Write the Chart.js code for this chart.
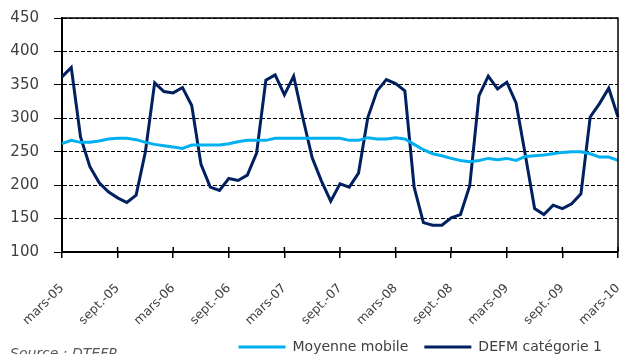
<!DOCTYPE html>
<html>
<head>
<meta charset="utf-8">
<script src="https://cdn.jsdelivr.net/npm/chart.js@4"></script>
<style>
  html, body { margin: 0; padding: 0; background: #fff; }
  #wrap { position: relative; width: 622px; height: 354px; overflow: hidden; }
  #source { position: absolute; left: 10px; top: 345px; font: italic 14px "DejaVu Sans", sans-serif; color: #595959; }
</style>
</head>
<body>
<div id="wrap">
  <canvas id="chart" width="622" height="354"></canvas>
  <div id="source">Source : DTEFP</div>
</div>
<script>
// mois de mars 2005 à mars 2010
const monthNames = ["janv.", "févr.", "mars", "avr.", "mai", "juin", "juil.", "août", "sept.", "oct.", "nov.", "déc."];
const firstMonth = 2;   // mars
const firstYear = 5;    // 2005
const monthCount = 61;

// DEFM catégorie 1 (valeurs mensuelles)
const defmCat1 = [
  362, 376, 272, 228, 204, 190, 181, 174, 185, 250, 353, 340,
  338, 346, 319, 231, 197, 192, 210, 207, 215, 248, 357, 365,
  335, 363, 300, 241, 206, 176, 202, 197, 218, 301, 341, 358,
  352, 341, 197, 144, 140, 140, 151, 156, 199, 334, 363, 344,
  354, 323, 245, 165, 156, 170, 165, 172, 187, 302, 322, 345,
  302
];

// Moyenne mobile
const moyenneMobile = [
  262, 267, 264, 264, 266, 269, 270, 270, 268, 264, 261, 259,
  257, 255, 260, 260, 260, 260, 262, 265, 267, 267, 267, 270,
  270, 270, 270, 270, 270, 270, 270, 267, 267, 271, 269, 269,
  271, 269, 261, 253, 247, 244, 240, 237, 235, 237, 240, 238,
  240, 237, 243, 244, 245, 247, 249, 250, 250, 247, 242, 242,
  237
];

const yTicks = [100, 150, 200, 250, 300, 350, 400, 450];

// étiquettes des catégories, ex. "mars-05"
const labels = [];
for (let i = 0; i < monthCount; i++) {
  const m = (firstMonth + i) % 12;
  const y = firstYear + Math.floor((firstMonth + i) / 12);
  labels.push(monthNames[m] + "-" + String(y).padStart(2, "0"));
}

const textColor = "#404040";
const fontFamily = "'DejaVu Sans', sans-serif";

// cadre du graphique (haut et droite) + petites graduations intérieures
const framePlugin = {
  id: "frame",
  afterDraw(chart) {
    const { ctx, chartArea: a } = chart;
    const x = chart.scales.x;
    ctx.save();
    ctx.strokeStyle = "#000";
    ctx.lineWidth = 1.5;
    ctx.beginPath();
    ctx.moveTo(a.left, a.top);
    ctx.lineTo(a.right, a.top);
    ctx.lineTo(a.right, a.bottom);
    ctx.stroke();
    x.ticks.forEach((t, i) => {
      const px = x.getPixelForTick(i);
      ctx.beginPath();
      ctx.moveTo(px, a.bottom);
      ctx.lineTo(px, a.bottom - 5);
      ctx.stroke();
    });
    ctx.restore();
  }
};

new Chart(document.getElementById("chart"), {
  type: "line",
  data: {
    labels: labels,
    datasets: [
      {
        label: "Moyenne mobile",
        data: moyenneMobile,
        borderColor: "#00B0F0",
        backgroundColor: "#00B0F0",
        borderWidth: 3,
        pointRadius: 0,
        tension: 0
      },
      {
        label: "DEFM catégorie 1",
        data: defmCat1,
        borderColor: "#002060",
        backgroundColor: "#002060",
        borderWidth: 3,
        pointRadius: 0,
        tension: 0
      }
    ]
  },
  options: {
    responsive: false,
    animation: false,
    layout: { padding: { top: 18, right: 4, left: 0, bottom: -10 } },
    plugins: {
      tooltip: { enabled: false },
      legend: {
        position: "bottom",
        align: "end",
        labels: {
          usePointStyle: true,
          pointStyle: "line",
          pointStyleWidth: 47,
          boxHeight: 14,
          padding: 16,
          color: textColor,
          font: { family: fontFamily, size: 14 }
        }
      }
    },
    scales: {
      x: {
        afterBuildTicks: (scale) => {
          scale.ticks = scale.ticks.filter((t, i) => i % 6 === 0);
        },
        afterFit: (scale) => {
          scale.height = 72;
          scale.paddingLeft = 0;
          scale.paddingRight = 0;
        },
        ticks: {
          autoSkip: false,
          maxRotation: 45,
          minRotation: 45,
          padding: 23,
          color: textColor,
          font: { family: fontFamily, size: 12.5 }
        },
        grid: {
          drawOnChartArea: false,
          color: "#000",
          lineWidth: 1.5,
          tickLength: 6
        },
        border: { display: true, color: "#000", width: 2 }
      },
      y: {
        min: 100,
        max: 450,
        afterBuildTicks: (scale) => {
          scale.ticks = yTicks.map(v => ({ value: v }));
        },
        afterFit: (scale) => {
          scale.width = 62;
          scale.paddingTop = 0;
          scale.paddingBottom = 0;
        },
        ticks: {
          padding: 15,
          color: textColor,
          font: { family: fontFamily, size: 15 }
        },
        grid: {
          color: "#000",
          lineWidth: 1,
          tickLength: 8,
          tickColor: "#000"
        },
        border: { display: true, color: "#000", width: 2, dash: [4, 2] }
      }
    }
  },
  plugins: [framePlugin]
});
</script>
</body>
</html>
